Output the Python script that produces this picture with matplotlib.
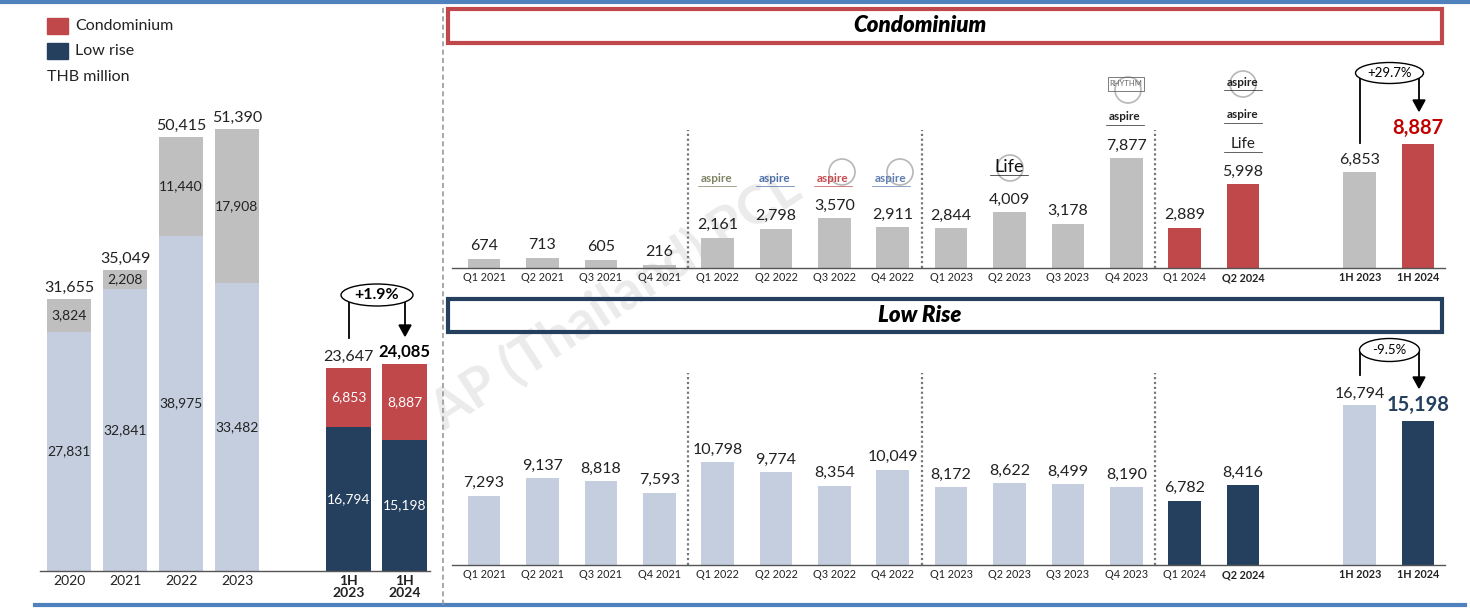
import matplotlib
matplotlib.use("Agg")
import matplotlib.pyplot as plt
from matplotlib.patches import Ellipse, Rectangle, Polygon
from matplotlib.lines import Line2D

plt.rcParams['font.family'] = ['Lato', 'DejaVu Sans']

# ---------------- data ----------------
years = ["2020", "2021", "2022", "2023"]
year_lowrise = [27831, 32841, 38975, 33482]
year_condo = [3824, 2208, 11440, 17908]
half_labels = ["1H\n2023", "1H\n2024"]
half_lowrise = [16794, 15198]
half_condo = [6853, 8887]
half_growth = "+1.9%"

quarters = ["Q1 2021", "Q2 2021", "Q3 2021", "Q4 2021",
            "Q1 2022", "Q2 2022", "Q3 2022", "Q4 2022",
            "Q1 2023", "Q2 2023", "Q3 2023", "Q4 2023",
            "Q1 2024", "Q2 2024"]
q_condo = [674, 713, 605, 216, 2161, 2798, 3570, 2911,
           2844, 4009, 3178, 7877, 2889, 5998]
q_lowrise = [7293, 9137, 8818, 7593, 10798, 9774, 8354, 10049,
             8172, 8622, 8499, 8190, 6782, 8416]
h_labels = ["1H 2023", "1H 2024"]
h_condo = [6853, 8887]
h_lowrise = [16794, 15198]
condo_growth = "+29.7%"
lowrise_growth = "-9.5%"

# ---------------- style ----------------
RED = "#C0484A"
NAVY = "#253F5E"
LIGHT = "#C4CEDF"
GRAY = "#BFBFBF"
TXT = "#222222"

W, H = 1470, 608
fig = plt.figure(figsize=(W / 100, H / 100), dpi=100)


def box(l, t, r, b):
    return [l / W, 1 - b / H, (r - l) / W, (b - t) / H]


def fx(x):
    return x / W


def fy(y):
    return 1 - y / H


def style_ax(ax):
    for s in ["top", "right", "left"]:
        ax.spines[s].set_visible(False)
    ax.spines["bottom"].set_color("#555555")
    ax.spines["bottom"].set_linewidth(1.0)
    ax.set_yticks([])
    ax.tick_params(axis="x", length=0, pad=3)
    ax.patch.set_visible(False)


# watermark
fig.text(fx(615), fy(300), "AP (Thailand) PCL", fontsize=39, fontweight="bold",
         color="#EBEBEB", rotation=33, ha="center", va="center", zorder=-5)

# page decorations
fig.add_artist(Line2D([0, 1], [fy(1.5), fy(1.5)], color="#4F81BD", lw=3, transform=fig.transFigure))
fig.add_artist(Line2D([fx(35), fx(1465)], [fy(604.5), fy(604.5)], color="#4F81BD", lw=3, transform=fig.transFigure))
fig.add_artist(Line2D([fx(443), fx(443)], [fy(8), fy(608)], color="#999999", lw=1.2,
                      ls=(0, (3, 2)), transform=fig.transFigure))

# legend
fig.add_artist(Rectangle((fx(47), fy(34)), fx(21), 16 / H, color=RED, transform=fig.transFigure))
fig.add_artist(Rectangle((fx(47), fy(59)), fx(21), 16 / H, color=NAVY, transform=fig.transFigure))
fig.text(fx(75), fy(26), "Condominium", fontsize=11.5, color=TXT, va="center")
fig.text(fx(75), fy(51), "Low rise", fontsize=11.5, color=TXT, va="center")
fig.text(fx(47), fy(77), "THB million", fontsize=11.5, color=TXT, va="center")

# ---------------- left chart ----------------
axL = fig.add_axes(box(40, 98, 430, 571))
style_ax(axL)
xs_year = list(range(len(years)))
xs_half = [5, 6]
bw = 0.8
axL.bar(xs_year, year_lowrise, bw, color=LIGHT)
axL.bar(xs_year, year_condo, bw, bottom=year_lowrise, color=GRAY)
axL.bar(xs_half, half_lowrise, bw, color=NAVY)
axL.bar(xs_half, half_condo, bw, bottom=half_lowrise, color=RED)
axL.set_xlim(-0.52, 6.45)
axL.set_ylim(0, 55000)
for x, lr, cd in zip(xs_year, year_lowrise, year_condo):
    axL.text(x, lr / 2, f"{lr:,}", ha="center", va="center", fontsize=10, color=TXT)
    axL.text(x, lr + cd / 2, f"{cd:,}", ha="center", va="center", fontsize=10, color=TXT)
    axL.annotate(f"{lr + cd:,}", (x, lr + cd), xytext=(0, 3), textcoords="offset points",
                 ha="center", va="bottom", fontsize=11.5, color=TXT)
for i, (x, lr, cd) in enumerate(zip(xs_half, half_lowrise, half_condo)):
    axL.text(x, lr / 2, f"{lr:,}", ha="center", va="center", fontsize=10, color="white")
    axL.text(x, lr + cd / 2, f"{cd:,}", ha="center", va="center", fontsize=10, color="white")
    axL.annotate(f"{lr + cd:,}", (x, lr + cd), xytext=(0, 3), textcoords="offset points",
                 ha="center", va="bottom", fontsize=12 if i else 11.5,
                 fontweight="bold" if i else "normal", color="black" if i else TXT)
axL.set_xticks(xs_year + xs_half)
axL.set_xticklabels(years + half_labels, fontsize=10, color=TXT)
for lab in axL.get_xticklabels()[4:]:
    lab.set_fontweight("bold")
    lab.set_linespacing(0.95)

# ---------------- condo chart ----------------
xs_q = list(range(len(quarters)))
xs_h = [15, 16]
qbw = 0.56

axC = fig.add_axes(box(452, 60, 1445, 268))
style_ax(axC)
c_cols = [GRAY] * 12 + [RED, RED]
axC.bar(xs_q, q_condo, qbw, color=c_cols)
axC.bar(xs_h, h_condo, qbw, color=[GRAY, RED])
axC.set_xlim(-0.55, 16.46)
axC.set_ylim(0, 14900)
for x, v in zip(xs_q, q_condo):
    axC.annotate(f"{v:,}", (x, v), xytext=(0, 4), textcoords="offset points",
                 ha="center", va="bottom", fontsize=11.5, color=TXT)
axC.annotate(f"{h_condo[0]:,}", (xs_h[0], h_condo[0]), xytext=(0, 4), textcoords="offset points",
             ha="center", va="bottom", fontsize=11.5, color=TXT)
axC.annotate(f"{h_condo[1]:,}", (xs_h[1], h_condo[1]), xytext=(0, 4), textcoords="offset points",
             ha="center", va="bottom", fontsize=14.5, fontweight="bold", color="#C00000")
axC.set_xticks(xs_q + xs_h)
axC.set_xticklabels(quarters + h_labels, fontsize=7.8, color=TXT)
for lab in axC.get_xticklabels()[13:]:
    lab.set_fontweight("bold")
for xv in [3.5, 7.5, 11.5]:
    axC.plot([xv, xv], [0, 9900], color="#777777", lw=1.6, ls=(0, (1, 1.2)))

# ---------------- low rise chart ----------------
axR = fig.add_axes(box(452, 340, 1445, 565))
style_ax(axR)
r_cols = [LIGHT] * 12 + [NAVY, NAVY]
axR.bar(xs_q, q_lowrise, qbw, color=r_cols)
axR.bar(xs_h, h_lowrise, qbw, color=[LIGHT, NAVY])
axR.set_xlim(-0.55, 16.46)
axR.set_ylim(0, 23684)
for x, v in zip(xs_q, q_lowrise):
    axR.annotate(f"{v:,}", (x, v), xytext=(0, 4), textcoords="offset points",
                 ha="center", va="bottom", fontsize=11.5, color=TXT)
axR.annotate(f"{h_lowrise[0]:,}", (xs_h[0], h_lowrise[0]), xytext=(0, 3), textcoords="offset points",
             ha="center", va="bottom", fontsize=11.5, color=TXT)
axR.annotate(f"{h_lowrise[1]:,}", (xs_h[1], h_lowrise[1]), xytext=(0, 4), textcoords="offset points",
             ha="center", va="bottom", fontsize=14.5, fontweight="bold", color=NAVY)
axR.set_xticks(xs_q + xs_h)
axR.set_xticklabels(quarters + h_labels, fontsize=7.8, color=TXT)
for lab in axR.get_xticklabels()[13:]:
    lab.set_fontweight("bold")
for xv in [3.5, 7.5, 11.5]:
    axR.plot([xv, xv], [0, 20200], color="#777777", lw=1.6, ls=(0, (1, 1.2)))

# ---------------- title boxes ----------------
fig.add_artist(Rectangle((fx(448), fy(43)), fx(994), 34 / H, fill=False, ec=RED, lw=3,
                         transform=fig.transFigure))
fig.text(fx(920), fy(26), "Condominium", fontsize=16, fontweight="heavy", style="italic",
         ha="center", va="center", color="black")
fig.add_artist(Rectangle((fx(448), fy(332)), fx(994), 33 / H, fill=False, ec=NAVY, lw=3,
                         transform=fig.transFigure))
fig.text(fx(920), fy(316), "Low Rise", fontsize=16, fontweight="heavy", style="italic",
         ha="center", va="center", color="black")


# ---------------- growth brackets ----------------
def bracket(xl, xr, y_top, yl_bot, yr_tip, ew, eh, text, bold):
    cx = (xl + xr) / 2
    fig.add_artist(Line2D([fx(xl), fx(xl)], [fy(y_top), fy(yl_bot)], color="black", lw=1.3,
                          transform=fig.transFigure))
    fig.add_artist(Line2D([fx(xr), fx(xr)], [fy(y_top), fy(yr_tip - 9)], color="black", lw=1.3,
                          transform=fig.transFigure))
    fig.add_artist(Polygon(
        [(fx(xr - 6), fy(yr_tip - 11)), (fx(xr + 6), fy(yr_tip - 11)), (fx(xr), fy(yr_tip))],
        closed=True, color="black", transform=fig.transFigure))
    fig.add_artist(Ellipse((fx(cx), fy(y_top)), fx(ew), eh / H, fc="white", ec="black", lw=1.0,
                           transform=fig.transFigure, zorder=3))
    fig.text(fx(cx), fy(y_top), text, ha="center", va="center", fontsize=11.5 if bold else 9.5,
             fontweight="bold" if bold else "normal", color="black", zorder=4)


bracket(349, 405, 295, 338, 336, 72, 22, half_growth, True)
bracket(1360, 1419, 73, 143, 111, 68, 21, condo_growth, False)
bracket(1360, 1419, 350, 375, 388, 60, 23, lowrise_growth, False)

# ---------------- project logos (text) ----------------
logo_specs = [
    (717, 178, "aspire", "#7D8363", 8.5, "bold"),
    (775, 178, "aspire", "#4F6FA8", 8.5, "bold"),
    (833, 178, "aspire", "#C84A4E", 8.5, "bold"),
    (891, 178, "aspire", "#5E7DB0", 8.5, "bold"),
    (1009, 167, "Life", "#111111", 13, "normal"),
    (1125, 117, "aspire", "#222222", 8.5, "bold"),
    (1243, 82, "aspire", "#222222", 8.5, "bold"),
    (1243, 115, "aspire", "#222222", 8.5, "bold"),
    (1243, 144, "Life", "#222222", 11, "normal"),
]
for x, y, t, c, s, w in logo_specs:
    fig.text(fx(x), fy(y), t, color=c, fontsize=s, fontweight=w, ha="center", va="center")
    fig.add_artist(Line2D([fx(x - 19), fx(x + 19)], [fy(y + 8), fy(y + 8)], color=c, lw=0.5,
                          transform=fig.transFigure))
for x, y in [(842, 172), (900, 172), (1010, 168), (1128, 90), (1243, 84)]:
    fig.add_artist(Ellipse((fx(x), fy(y)), fx(26), 26 / H, fill=False, ec="#888888", lw=1.2,
                           transform=fig.transFigure, alpha=0.6))
fig.add_artist(Rectangle((fx(1108), fy(91)), fx(36), 14 / H, fill=False, ec="#666666", lw=0.6,
                         transform=fig.transFigure))
fig.text(fx(1126), fy(84), "RHYTHM", fontsize=5.5, color="#666666", ha="center", va="center")

fig.savefig("out.png", dpi=100)
